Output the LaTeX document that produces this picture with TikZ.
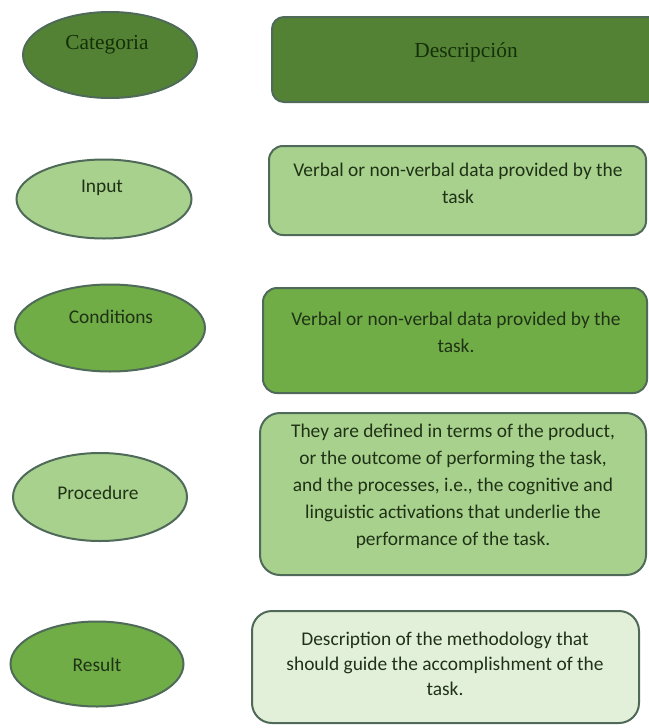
\documentclass[tikz,border=0pt]{standalone}
\usepackage{fontspec}
\setmainfont{Carlito}
\newfontfamily\headfont{Liberation Serif}
\usepackage{xcolor}
\usepackage{tikz}
\usetikzlibrary{shapes.geometric}
\definecolor{darkgrn}{HTML}{548235}
\definecolor{midgrn}{HTML}{70AD47}
\definecolor{lightgrn}{HTML}{A9D18E}
\definecolor{palegrn}{HTML}{E2F0D9}
\definecolor{edgegrn}{HTML}{4F6A58}
\definecolor{inkgrn}{HTML}{1F3216}
\definecolor{headgrn}{HTML}{143008}
\tikzset{
	oval/.style={ellipse, draw=edgegrn, line width=1pt},
	card/.style={rectangle, draw=edgegrn, line width=1pt},
	txt/.style={text=inkgrn, font=\fontsize{9.7}{13.5}\selectfont, align=center},
	head/.style={text=headgrn, font=\headfont\fontsize{10.7}{13}\selectfont}
}

\begin{document}
\begin{tikzpicture}[x=0.5pt,y=-0.5pt]
	\useasboundingbox (0,0) rectangle (648,728);
	\node[oval, fill=darkgrn, minimum width=87pt, minimum height=43pt] (cat) at (110,55) {};
	\node[head] (catT) at (107,45) {Categoria};
	\node[card, fill=darkgrn, rounded corners=6pt, minimum width=194pt, minimum height=42.5pt] (desc) at (466,59.5) {};
	\node[head] (descT) at (466,52) {Descripción};

	\node[oval, fill=lightgrn, minimum width=87.5pt, minimum height=39.5pt] (inp) at (104,199) {};
	\node[txt] (inpT) at (102,188) {Input};
	\node[card, fill=lightgrn, rounded corners=7pt, minimum width=188.5pt, minimum height=44.5pt] (inpBox) at (457.5,190.5) {};
	\node[txt] (inpBoxT) at (458,183.5) {Verbal or non-verbal data provided by the\\task};

	\node[oval, fill=midgrn, minimum width=95pt, minimum height=43.5pt] (cond) at (110,328) {};
	\node[txt] (condT) at (111,317) {Conditions};
	\node[card, fill=midgrn, rounded corners=7pt, minimum width=192pt, minimum height=52.5pt] (condBox) at (455,340.5) {};
	\node[txt] (condBoxT) at (456,332) {Verbal or non-verbal data provided by the\\task.};

	\node[oval, fill=lightgrn, minimum width=87pt, minimum height=44pt] (proc) at (100,497) {};
	\node[txt] (procT) at (98,493) {Procedure};
	\node[card, fill=lightgrn, rounded corners=10pt, minimum width=193pt, minimum height=81pt] (procBox) at (453,494) {};
	\node[txt] (procBoxT) at (453,486) {They are defined in terms of the product,\\or the outcome of performing the task,\\and the processes, i.e., the cognitive and\\linguistic activations that underlie the\\performance of the task.};

	\node[oval, fill=midgrn, minimum width=86.5pt, minimum height=42.5pt] (res) at (97,664) {};
	\node[txt] (resT) at (97,665) {Result};
	\node[card, fill=palegrn, rounded corners=10pt, minimum width=193.5pt, minimum height=56pt] (resBox) at (445.5,667) {};
	\node[txt, font=\fontsize{9.7}{12.5}\selectfont] (resBoxT) at (445,664) {Description of the methodology that\\should guide the accomplishment of the\\task.};
\end{tikzpicture}
\end{document}
